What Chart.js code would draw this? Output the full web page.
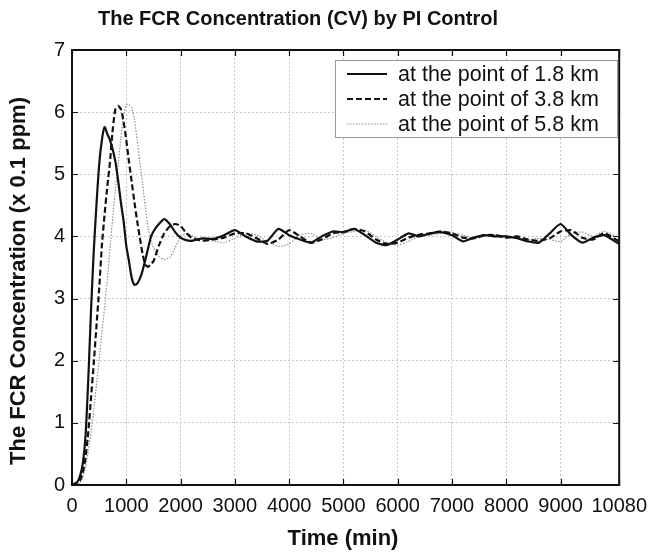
<!DOCTYPE html>
<html>
<head>
<meta charset="utf-8">
<script src="https://cdn.jsdelivr.net/npm/chart.js@4.4.1/dist/chart.umd.min.js"></script>
<style>
  html, body { margin: 0; padding: 0; background: #ffffff; }
  #wrap { width: 656px; height: 556px; }
</style>
</head>
<body>
<div id="wrap"><canvas id="c" width="656" height="556"></canvas></div>
<script>
// ---- Data ----
const chartTitle = "The FCR Concentration (CV) by PI Control";
const xTitle = "Time (min)";
const yTitle = "The FCR Concentration (x 0.1 ppm)";
const seriesLabels = ["at the point of 1.8 km", "at the point of 3.8 km", "at the point of 5.8 km"];

const times = [0, 100, 150, 200, 250, 300, 350, 400, 450, 500, 550, 600, 650, 700, 750, 800, 850, 900, 950, 1000,
  1050, 1100, 1150, 1200, 1250, 1300, 1350, 1400, 1450, 1500, 1600, 1700, 1800, 1900, 2000, 2100, 2200, 2300, 2400,
  2600, 2800, 3000, 3200, 3400, 3600, 3800, 4000, 4200, 4400, 4600, 4800, 5000, 5200, 5400, 5600, 5800, 6000,
  6200, 6400, 6600, 6800, 7000, 7200, 7400, 7600, 7800, 8000, 8200, 8400, 8600, 8800, 9000, 9200, 9400, 9600, 9800, 10080];

const conc18 = [0, 0.05, 0.15, 0.35, 0.8, 1.7, 2.8, 3.75, 4.5, 5.15, 5.55, 5.76, 5.65, 5.55, 5.4, 5.2, 4.9, 4.55, 4.25, 3.85,
  3.6, 3.33, 3.22, 3.24, 3.32, 3.45, 3.62, 3.8, 3.98, 4.08, 4.2, 4.28, 4.2, 4.07, 3.98, 3.94, 3.93, 3.95, 3.97,
  3.96, 4.02, 4.1, 4.0, 3.92, 3.93, 4.12, 4.02, 3.95, 3.9, 4.0, 4.08, 4.07, 4.12, 4.02, 3.9, 3.86, 3.95,
  4.05, 4.0, 4.05, 4.07, 4.02, 3.92, 3.98, 4.02, 4.0, 4.0, 3.97, 3.92, 3.9, 4.05, 4.2, 4.02, 3.9, 3.98, 4.02, 3.88];

const conc38 = [0, 0.02, 0.08, 0.2, 0.45, 0.85, 1.4, 1.95, 2.55, 3.15, 3.85, 4.35, 4.8, 5.2, 5.72, 6.05, 6.1, 6.05, 5.85, 5.55,
  5.2, 4.88, 4.55, 4.25, 3.98, 3.72, 3.55, 3.51, 3.55, 3.6, 3.85, 4.05, 4.16, 4.2, 4.17, 4.06, 3.98, 3.95, 3.93,
  3.95, 3.98, 4.05, 4.05, 3.97, 3.88, 3.95, 4.1, 4.0, 3.9, 3.95, 4.05, 4.07, 4.12, 4.08, 3.95, 3.88, 3.9,
  3.98, 4.03, 4.05, 4.08, 4.05, 3.98, 3.97, 4.02, 4.02, 3.98, 4.0, 3.95, 3.93, 3.97, 4.08, 4.1, 3.98, 3.95, 4.05, 3.92];

const conc58 = [0, 0.01, 0.04, 0.12, 0.3, 0.55, 0.85, 1.2, 1.6, 2.02, 2.45, 2.85, 3.3, 3.8, 4.3, 4.75, 5.15, 5.58, 5.95, 6.12,
  6.12, 6.07, 5.88, 5.55, 5.2, 4.85, 4.48, 4.15, 3.95, 3.82, 3.68, 3.63, 3.66, 3.82, 4.0, 4.05, 4.02, 3.97, 3.95,
  3.93, 3.9, 3.97, 4.05, 4.02, 3.92, 3.84, 3.88, 4.02, 4.05, 3.95, 3.98, 4.05, 4.08, 4.1, 4.0, 3.9, 3.86,
  3.92, 4.0, 4.02, 4.05, 4.06, 4.02, 3.96, 4.0, 4.03, 4.0, 3.98, 3.95, 3.97, 3.95, 3.92, 4.05, 4.07, 4.0, 4.08, 3.98];

const xTicks = [0, 1000, 2000, 3000, 4000, 5000, 6000, 7000, 8000, 9000, 10080];
const yTicks = [0, 1, 2, 3, 4, 5, 6, 7];

// ---- Styles ----
const FONT = "'Liberation Sans', Arial, Helvetica, sans-serif";
const styles = [
  { color: '#111111', width: 2.2, dash: [] },
  { color: '#111111', width: 2.2, dash: [6, 3] },
  { color: '#909090', width: 1.2, dash: [1.5, 1.5] }
];

function toPoints(vals) { return times.map((t, i) => ({ x: t, y: vals[i] })); }
const seriesValues = [conc18, conc38, conc58];

const datasets = seriesValues.map((vals, i) => ({
  label: seriesLabels[i],
  data: toPoints(vals),
  borderColor: styles[i].color,
  borderWidth: styles[i].width,
  borderDash: styles[i].dash,
  pointRadius: 0,
  tension: 0.2,
  fill: false
}));

const framePlugin = {
  id: 'frame',
  afterDraw(chart) {
    const ctx = chart.ctx;
    const a = chart.chartArea;
    const xs = chart.scales.x, ys = chart.scales.y;
    ctx.save();
    // inner ticks
    ctx.strokeStyle = '#111';
    ctx.lineWidth = 1.2;
    ctx.setLineDash([]);
    const tl = 6;
    ctx.beginPath();
    xTicks.forEach(v => {
      const px = Math.round(xs.getPixelForValue(v)) + 0.5;
      ctx.moveTo(px, a.bottom); ctx.lineTo(px, a.bottom - tl);
      ctx.moveTo(px, a.top); ctx.lineTo(px, a.top + tl);
    });
    yTicks.forEach(v => {
      const py = Math.round(ys.getPixelForValue(v)) + 0.5;
      ctx.moveTo(a.left, py); ctx.lineTo(a.left + tl, py);
      ctx.moveTo(a.right, py); ctx.lineTo(a.right - tl, py);
    });
    ctx.stroke();
    // box
    ctx.lineWidth = 2;
    ctx.strokeRect(a.left, a.top, a.right - a.left, a.bottom - a.top);

    // legend
    const lx = 335, ly = 60, lw = 282, lh = 77;
    ctx.fillStyle = '#fff';
    ctx.fillRect(lx, ly, lw, lh);
    ctx.strokeStyle = '#9a9a9a';
    ctx.lineWidth = 1;
    ctx.strokeRect(lx + 0.5, ly + 0.5, lw, lh);
    ctx.font = "21.5px " + FONT;
    ctx.textBaseline = 'middle';
    ctx.textAlign = 'left';
    chart.data.datasets.forEach((ds, i) => {
      const cy = ly + 14 + i * 25;
      ctx.strokeStyle = ds.borderColor;
      ctx.lineWidth = ds.borderWidth;
      ctx.setLineDash(ds.borderDash);
      ctx.beginPath();
      ctx.moveTo(347, cy); ctx.lineTo(387, cy);
      ctx.stroke();
      ctx.setLineDash([]);
      ctx.fillStyle = '#111';
      ctx.fillText(ds.label, 398, cy + 1);
    });

    // titles
    ctx.fillStyle = '#111';
    ctx.textAlign = 'center';
    ctx.font = "bold 20px " + FONT;
    ctx.fillText(chartTitle, 298, 19);
    ctx.font = "bold 22px " + FONT;
    ctx.fillText(xTitle, 343, 539);
    ctx.translate(19, 281);
    ctx.rotate(-Math.PI / 2);
    ctx.fillText(yTitle, 0, 0);
    ctx.restore();
  }
};

new Chart(document.getElementById('c'), {
  type: 'line',
  data: { datasets },
  options: {
    responsive: false,
    animation: false,
    events: [],
    layout: { padding: { top: 50, right: 34, left: 0, bottom: 0 } },
    plugins: { legend: { display: false }, title: { display: false }, tooltip: { enabled: false } },
    scales: {
      x: {
        type: 'linear', min: 0, max: 10080,
        afterBuildTicks: s => { s.ticks = xTicks.map(v => ({ value: v })); },
        afterFit: s => { s.height = 71; },
        ticks: { color: '#111', font: { family: FONT, size: 20 }, padding: 9, maxRotation: 0, autoSkip: false,
                 callback: v => String(v) },
        grid: { color: '#b8b8b8', lineWidth: 1, drawTicks: false },
        border: { display: false, dash: [1.5, 2.5] }
      },
      y: {
        type: 'linear', min: 0, max: 7,
        afterBuildTicks: s => { s.ticks = yTicks.map(v => ({ value: v })); },
        afterFit: s => { s.width = 72; },
        ticks: { color: '#111', font: { family: FONT, size: 20 }, padding: 7, callback: v => String(v) },
        grid: { color: '#b8b8b8', lineWidth: 1, drawTicks: false },
        border: { display: false, dash: [1.5, 2.5] }
      }
    }
  },
  plugins: [framePlugin]
});
</script>
</body>
</html>
